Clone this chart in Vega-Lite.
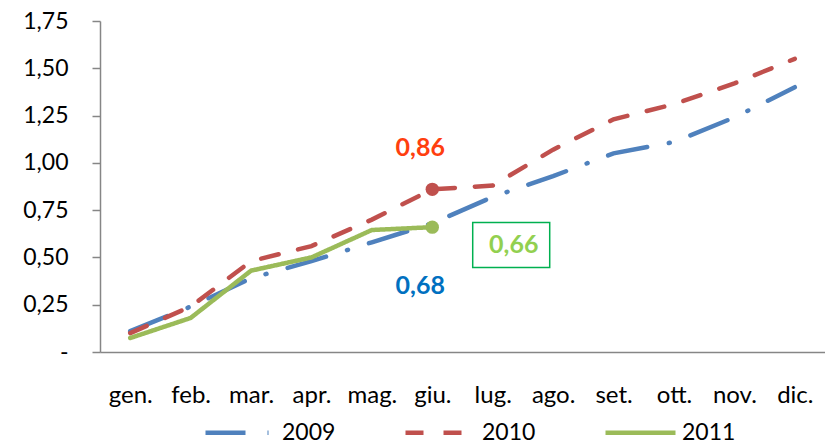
{
  "$schema": "https://vega.github.io/schema/vega-lite/v6.json",
  "width": 725,
  "height": 331,
  "autosize": {"type": "none"},
  "padding": {"left": 100, "top": 21, "right": 0, "bottom": 94},
  "background": "white",
  "config": {
    "view": {"stroke": null},
    "font": "Lato",
    "legend": {"padding": 0}
  },
  "datasets": {
    "series": [
      {"month": "gen.", "year": "2009", "value": 0.11},
      {"month": "feb.", "year": "2009", "value": 0.24},
      {"month": "mar.", "year": "2009", "value": 0.39},
      {"month": "apr.", "year": "2009", "value": 0.48},
      {"month": "mag.", "year": "2009", "value": 0.58},
      {"month": "giu.", "year": "2009", "value": 0.68},
      {"month": "lug.", "year": "2009", "value": 0.82},
      {"month": "ago.", "year": "2009", "value": 0.93},
      {"month": "set.", "year": "2009", "value": 1.05},
      {"month": "ott.", "year": "2009", "value": 1.11},
      {"month": "nov.", "year": "2009", "value": 1.24},
      {"month": "dic.", "year": "2009", "value": 1.40},
      {"month": "gen.", "year": "2010", "value": 0.10},
      {"month": "feb.", "year": "2010", "value": 0.24},
      {"month": "mar.", "year": "2010", "value": 0.48},
      {"month": "apr.", "year": "2010", "value": 0.56},
      {"month": "mag.", "year": "2010", "value": 0.70},
      {"month": "giu.", "year": "2010", "value": 0.86},
      {"month": "lug.", "year": "2010", "value": 0.88},
      {"month": "ago.", "year": "2010", "value": 1.07},
      {"month": "set.", "year": "2010", "value": 1.23},
      {"month": "ott.", "year": "2010", "value": 1.31},
      {"month": "nov.", "year": "2010", "value": 1.42},
      {"month": "dic.", "year": "2010", "value": 1.55},
      {"month": "gen.", "year": "2011", "value": 0.074},
      {"month": "feb.", "year": "2011", "value": 0.18},
      {"month": "mar.", "year": "2011", "value": 0.43},
      {"month": "apr.", "year": "2011", "value": 0.50},
      {"month": "mag.", "year": "2011", "value": 0.645},
      {"month": "giu.", "year": "2011", "value": 0.66}
    ],
    "notes": [
      {"id": "a", "month": "giu.", "value": 1.076, "label": "0,86"},
      {"id": "b", "month": "giu.", "value": 0.349, "label": "0,68"},
      {"id": "c", "month": "lug.", "value": 0.566, "label": "0,66"}
    ]
  },
  "encoding": {
    "x": {
      "field": "month",
      "type": "ordinal",
      "scale": {"type": "point", "padding": 0.5, "domain": ["gen.", "feb.", "mar.", "apr.", "mag.", "giu.", "lug.", "ago.", "set.", "ott.", "nov.", "dic."]},
      "axis": {
        "title": null,
        "labelAngle": 0,
        "ticks": false,
        "domainColor": "#868686",
        "domainWidth": 1.5,
        "labelFont": "Lato",
        "labelFontSize": 24,
        "labelColor": "#000000",
        "labelPadding": 31
      }
    },
    "y": {
      "field": "value",
      "type": "quantitative",
      "scale": {"domain": [0, 1.75], "nice": false, "zero": true},
      "axis": {
        "title": null,
        "grid": false,
        "values": [0, 0.25, 0.5, 0.75, 1, 1.25, 1.5, 1.75],
        "labelExpr": "datum.value == 0 ? '-' : replace(format(datum.value, '.2f'), '.', ',')",
        "tickSize": 8,
        "tickColor": "#868686",
        "tickWidth": 1.5,
        "domainColor": "#868686",
        "domainWidth": 1.5,
        "labelFont": "Lato",
        "labelFontSize": 23,
        "labelColor": "#000000",
        "labelPadding": 24
      }
    }
  },
  "layer": [
    {
      "data": {"name": "series"},
      "mark": {"type": "line", "strokeWidth": 4.5, "strokeCap": "round"},
      "encoding": {
        "color": {
          "field": "year",
          "type": "nominal",
          "scale": {"domain": ["2009", "2010", "2011"], "range": ["#4F81BD", "#C0504D", "#9BBB59"]},
          "legend": {
            "title": null,
            "orient": "none",
            "direction": "horizontal",
            "legendX": 103,
            "legendY": 374,
            "symbolType": "stroke",
            "symbolSize": 4900,
            "symbolStrokeWidth": 4.5,
            "labelFont": "Lato",
            "labelFontSize": 23,
            "labelColor": "#000000",
            "labelOffset": 4,
            "columnPadding": 60
          }
        },
        "strokeDash": {
          "field": "year",
          "type": "nominal",
          "scale": {"domain": ["2009", "2010", "2011"], "range": [[40, 22, 1, 22], [18, 20], [1, 0]]},
          "legend": {
            "title": null,
            "orient": "none",
            "direction": "horizontal",
            "legendX": 103,
            "legendY": 374,
            "symbolType": "stroke",
            "symbolSize": 4900,
            "symbolStrokeWidth": 4.5,
            "labelFont": "Lato",
            "labelFontSize": 23,
            "labelColor": "#000000",
            "labelOffset": 4,
            "columnPadding": 60
          }
        }
      }
    },
    {
      "data": {"name": "series"},
      "transform": [{"filter": "datum.month == 'giu.' && datum.year == '2010'"}],
      "mark": {"type": "point", "filled": true, "size": 180, "color": "#C0504D", "opacity": 1}
    },
    {
      "data": {"name": "series"},
      "transform": [{"filter": "datum.month == 'giu.' && datum.year == '2011'"}],
      "mark": {"type": "point", "filled": true, "size": 180, "color": "#9BBB59", "opacity": 1}
    },
    {
      "data": {"name": "notes"},
      "transform": [{"filter": "datum.id == 'a'"}],
      "mark": {"type": "text", "font": "Lato", "fontSize": 25, "fontWeight": "bold", "color": "#FF3F0F", "dx": -12, "baseline": "middle"},
      "encoding": {"text": {"field": "label"}}
    },
    {
      "data": {"name": "notes"},
      "transform": [{"filter": "datum.id == 'b'"}],
      "mark": {"type": "text", "font": "Lato", "fontSize": 25, "fontWeight": "bold", "color": "#0070C0", "dx": -12, "baseline": "middle"},
      "encoding": {"text": {"field": "label"}}
    },
    {
      "data": {"name": "notes"},
      "transform": [{"filter": "datum.id == 'c'"}],
      "mark": {"type": "text", "font": "Lato", "fontSize": 25, "fontWeight": "bold", "color": "#92D050", "dx": 21, "baseline": "middle"},
      "encoding": {"text": {"field": "label"}}
    },
    {
      "data": {"name": "notes"},
      "transform": [{"filter": "datum.id == 'c'"}],
      "mark": {"type": "point", "shape": "M-1,-0.584L1,-0.584L1,0.584L-1,0.584Z", "size": 5929, "filled": false, "stroke": "#00B050", "strokeWidth": 1.5, "opacity": 1, "xOffset": 18.5}
    }
  ]
}
